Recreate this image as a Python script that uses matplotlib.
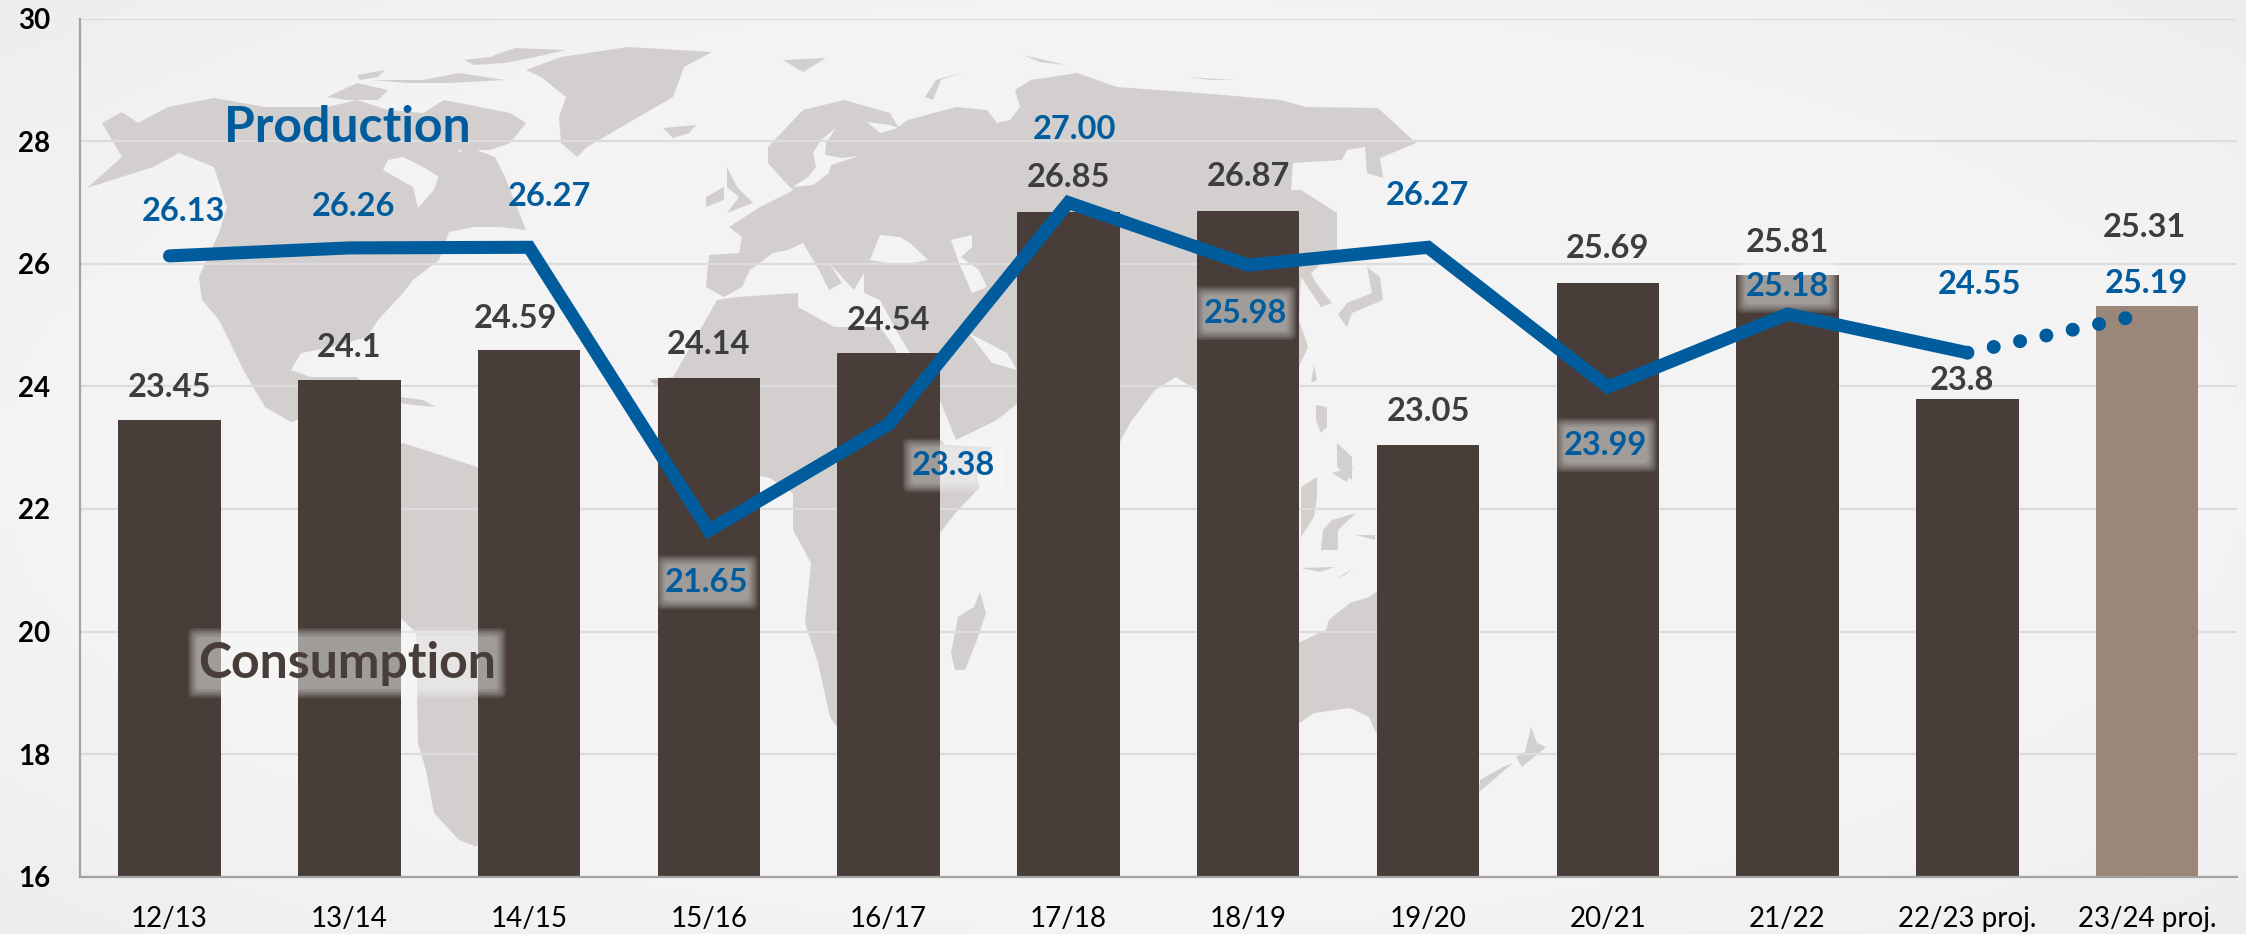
import numpy as np
import matplotlib
matplotlib.use('Agg')
import matplotlib.pyplot as plt
from matplotlib.patches import Polygon, FancyBboxPatch
from matplotlib.transforms import IdentityTransform

plt.rcParams['font.family'] = ['Lato', 'DejaVu Sans']

# data
seasons = ['12/13', '13/14', '14/15', '15/16', '16/17', '17/18', '18/19', '19/20',
           '20/21', '21/22', '22/23 proj.', '23/24 proj.']
consumption = [23.45, 24.1, 24.59, 24.14, 24.54, 26.85, 26.87, 23.05, 25.69, 25.81, 23.8, 25.31]
production = [26.13, 26.26, 26.27, 21.65, 23.38, 27.00, 25.98, 26.27, 23.99, 25.18, 24.55, 25.19]
consumption_labels = ['23.45', '24.1', '24.59', '24.14', '24.54', '26.85', '26.87', '23.05',
                      '25.69', '25.81', '23.8', '25.31']
production_labels = ['26.13', '26.26', '26.27', '21.65', '23.38', '27.00', '25.98', '26.27',
                     '23.99', '25.18', '24.55', '25.19']

W, H = 2246, 934
BAR = '#483d38'
BAR_PROJ = '#9a877a'
BLUE = '#005c9c'
DARK = '#3d3d3d'
LAND = '#d2cfce'
SEA = '#f3f3f4'

# label offsets from the mark, in pixels (x right, y down)
cons_off = [(0, -33), (0, -33), (-14, -32), (0, -33), (0, -33), (0, -34), (0, -34), (0, -33),
            (0, -34), (0, -33), (-5, -18), (-3, -79)]
prod_off = [(14, -44), (4, -41), (20, -51), (-2, 52), (65, 41), (6, -73), (-3, 48), (-1, -52),
            (-2, 58), (0, -28), (12, -68), (-1, -30)]
prod_glow = {3, 4, 6, 8, 9}

# background map, rough outlines in reference pixels
land = [
    # north america
    [(87, 188), (122, 157), (102, 123), (122, 112), (138, 123), (168, 107), (214, 98), (265, 107),
     (327, 107), (357, 100), (388, 110), (423, 113), (444, 100), (510, 113), (526, 123), (510, 143),
     (490, 150), (459, 150), (449, 167), (439, 177), (423, 167), (403, 157), (388, 160), (383, 170),
     (413, 187), (418, 208), (434, 190), (444, 160), (469, 147), (495, 157), (505, 177), (526, 230),
     (500, 227), (474, 227), (449, 232), (439, 260), (413, 280), (403, 293), (378, 320), (367, 337),
     (332, 347), (301, 353), (291, 370), (311, 377), (357, 377), (367, 387), (352, 393), (327, 410),
     (291, 422), (265, 407), (245, 373), (219, 320), (202, 300), (199, 277), (219, 233), (227, 207),
     (214, 167), (179, 153), (153, 167)],
    # south america
    [(390, 450), (403, 443), (434, 453), (477, 467), (560, 530), (540, 640), (490, 780), (477, 847),
     (459, 840), (434, 813), (426, 770), (418, 743), (416, 633), (400, 617), (370, 520)],
    # greenland, arctic islands, iceland, cuba
    [(526, 70), (561, 57), (628, 47), (712, 52), (684, 67), (673, 97), (628, 123), (587, 147),
     (577, 157), (561, 143), (559, 117), (566, 97), (541, 77)],
    [(327, 97), (357, 83), (388, 90), (378, 100), (347, 100)],
    [(357, 75), (385, 70), (378, 77), (360, 80)],
    [(372, 80), (423, 80), (459, 73), (505, 80), (449, 83), (408, 83)],
    [(464, 60), (490, 57), (515, 48), (566, 50), (531, 58), (505, 63), (474, 65)],
    [(663, 128), (696, 125), (689, 133), (673, 138)],
    [(400, 397), (423, 400), (436, 407), (413, 405), (400, 403)],
    # eurasia
    [(709, 255), (706, 287), (724, 297), (742, 287), (750, 270), (773, 253), (788, 250), (803, 243),
     (819, 270), (829, 290), (842, 283), (829, 263), (854, 290), (864, 273), (864, 293), (880, 300),
     (900, 337), (941, 403), (956, 440), (997, 420), (1018, 403), (1048, 427), (1074, 463), (1109, 463),
     (1130, 423), (1155, 390), (1176, 377), (1196, 390), (1250, 420), (1299, 367), (1308, 347), (1299, 320),
     (1301, 277), (1321, 307), (1332, 303), (1316, 283), (1311, 273), (1337, 250), (1337, 213), (1301, 190),
     (1291, 190), (1293, 163), (1342, 160), (1347, 150), (1365, 147), (1367, 173), (1383, 178), (1380, 158),
     (1416, 143), (1378, 108), (1306, 107), (1281, 100), (1199, 93), (1117, 87), (1077, 73), (1031, 80),
     (1015, 90), (1020, 107), (1010, 120), (997, 123), (987, 110), (956, 107), (908, 120), (898, 127),
     (890, 113), (844, 100), (803, 110), (768, 147), (768, 163), (783, 180), (793, 190), (788, 193),
     (760, 207), (729, 227), (742, 237), (739, 253)],
    # britain, ireland, novaya zemlya, svalbard, other arctic bits
    [(727, 167), (737, 187), (753, 203), (727, 213), (739, 197), (727, 187)],
    [(706, 197), (724, 187), (724, 200), (706, 207)],
    [(925, 97), (936, 80), (964, 72), (941, 80), (933, 100)],
    [(783, 60), (826, 58), (803, 72)],
    [(1023, 55), (1066, 65), (1040, 62)],
    [(1186, 77), (1234, 80), (1211, 80)],
    # japan, taiwan, philippines
    [(1367, 267), (1380, 277), (1383, 300), (1352, 313), (1347, 327), (1338, 315), (1347, 303), (1372, 293)],
    [(1314, 365), (1317, 380), (1311, 383)],
    [(1316, 405), (1327, 407), (1327, 427), (1321, 433), (1316, 420)],
    [(1337, 443), (1352, 457), (1352, 480), (1337, 467)],
    # africa, madagascar
    [(717, 300), (737, 297), (798, 293), (798, 307), (834, 327), (880, 327), (893, 345), (930, 425),
     (945, 445), (992, 447), (977, 477), (980, 487), (958, 510), (940, 533), (900, 640), (860, 700),
     (837, 727), (830, 717), (818, 663), (805, 623), (811, 563), (793, 530), (793, 493), (770, 478),
     (735, 470), (670, 400), (650, 380), (673, 377), (696, 337)],
    [(980, 592), (986, 613), (977, 640), (965, 670), (955, 670), (951, 653), (958, 617), (974, 607)],
    # indonesia, australia, new zealand
    [(1317, 477), (1301, 487), (1301, 537), (1314, 517), (1317, 497)],
    [(1323, 530), (1332, 520), (1356, 513), (1338, 530), (1338, 550), (1321, 550)],
    [(1332, 473), (1353, 467), (1347, 482)],
    [(1301, 568), (1335, 567), (1320, 572)],
    [(1338, 578), (1353, 568), (1345, 575)],
    [(1356, 535), (1375, 535), (1375, 540)],
    [(1300, 642), (1326, 630), (1329, 620), (1350, 603), (1369, 597), (1376, 592), (1400, 560), (1470, 620),
     (1478, 660), (1440, 720), (1376, 733), (1369, 717), (1350, 708), (1314, 713), (1300, 723), (1280, 720),
     (1270, 660)],
    [(1531, 727), (1537, 743), (1546, 747), (1522, 767), (1516, 757), (1525, 752)],
    [(1513, 763), (1479, 792), (1480, 780), (1503, 767)],
]
seas = [
    [(836, 128), (821, 140), (813, 153), (816, 167), (808, 177), (793, 187), (813, 185), (829, 173),
     (831, 165), (859, 156), (842, 158), (825, 155), (826, 143)],
    [(867, 122), (880, 133), (898, 128), (890, 125)],
    [(880, 235), (870, 260), (900, 265), (928, 260), (910, 243), (900, 237)],
    [(951, 240), (972, 235), (972, 247), (961, 257), (979, 270), (987, 287), (972, 293), (959, 263)],
    [(969, 333), (992, 363), (1017, 370), (1007, 353)],
]

fig = plt.figure(figsize=(W / 100, H / 100), dpi=100)

# soft vignette behind everything
bg = fig.add_axes([0, 0, 1, 1], zorder=-1)
yy, xx = np.mgrid[-1:1:120j, -1:1:240j]
shade = 0.957 - 0.03 * np.clip((xx ** 2 + yy ** 2) / 2, 0, 1) ** 2
bg.imshow(shade, cmap='gray', vmin=0, vmax=1, aspect='auto')
bg.axis('off')

ax = fig.add_axes([79.6 / W, 1 - 876.7 / H, (2237 - 79.6) / W, (876.7 - 18.7) / H])
ax.patch.set_visible(False)


def px_points(outline):
    pts = np.array(outline, dtype=float)
    return np.column_stack([pts[:, 0] / W, 1 - pts[:, 1] / H])


for outline in land:
    ax.add_patch(Polygon(px_points(outline), closed=True, fc=LAND, ec='none',
                         transform=fig.transFigure, clip_on=False, zorder=0))
for outline in seas:
    ax.add_patch(Polygon(px_points(outline), closed=True, fc=SEA, ec='none',
                         transform=fig.transFigure, clip_on=False, zorder=0.1))

x = np.arange(len(seasons))
colors = [BAR] * 11 + [BAR_PROJ]
ax.bar(x, consumption, width=0.57, color=colors, zorder=2)

ax.plot(x[:11], production[:11], color=BLUE, lw=9.4, solid_capstyle='round',
        solid_joinstyle='miter', zorder=3)
ax.plot(x[10:], production[10:], color=BLUE, lw=10, linestyle=(0, (0.01, 1.93)),
        dash_capstyle='round', zorder=3)

ax.set_xlim(-0.5, 11.5)
ax.set_ylim(16, 30)
ax.set_yticks(range(16, 31, 2))
ax.set_xticks(x)
ax.set_xticklabels(seasons, fontsize=20, color='black')
ax.tick_params(axis='both', length=0)
ax.tick_params(axis='x', pad=21)
ax.tick_params(axis='y', pad=21)
for lab in ax.get_yticklabels():
    lab.set_fontsize(20)
    lab.set_fontweight('bold')
    lab.set_color('black')
ax.set_axisbelow(True)
ax.grid(axis='y', color='#dddcdc', lw=1.6)
for side in ['top', 'right']:
    ax.spines[side].set_visible(False)
for side in ['left', 'bottom']:
    ax.spines[side].set_color('#a3a3a3')
    ax.spines[side].set_linewidth(1.6)


def px_offset(off):
    return (off[0] * 0.72, -off[1] * 0.72)


def glow(cx, cy, w, h):
    # blurred translucent box, built from a few stacked rounded rects (y is from the top)
    for grow in [10, 7, 4, 1, -2, -5, -8]:
        ww, hh = w + grow, h + grow
        ax.add_patch(FancyBboxPatch((cx - ww / 2 + 4, H - cy - hh / 2 + 4), ww - 8, hh - 8,
                                    boxstyle='round,pad=4,rounding_size=6', fc='white', ec='none',
                                    alpha=0.095, transform=IdentityTransform(), clip_on=False,
                                    zorder=2.5))


fig.canvas.draw()
for i, (val, lab, off) in enumerate(zip(consumption, consumption_labels, cons_off)):
    ax.annotate(lab, (x[i], val), xytext=px_offset(off), textcoords='offset points', ha='center',
                va='center', fontsize=23.5, fontweight='bold', color=DARK, zorder=4)
for i, (val, lab, off) in enumerate(zip(production, production_labels, prod_off)):
    ax.annotate(lab, (x[i], val), xytext=px_offset(off), textcoords='offset points', ha='center',
                va='center', fontsize=23.5, fontweight='bold', color=BLUE, zorder=4)
    if i in prod_glow:
        px, py = ax.transData.transform((x[i], val))
        glow(px + off[0], H - py + off[1], 92, 44)

glow(347, 663, 308, 60)
fig.text(347 / W, 1 - 663 / H, 'Consumption', ha='center', va='center', fontsize=36,
         fontweight='bold', color=BAR, zorder=5)
fig.text(347 / W, 1 - 127 / H, 'Production', ha='center', va='center', fontsize=36,
         fontweight='bold', color=BLUE, zorder=5)

fig.savefig('out.png', dpi=100)
